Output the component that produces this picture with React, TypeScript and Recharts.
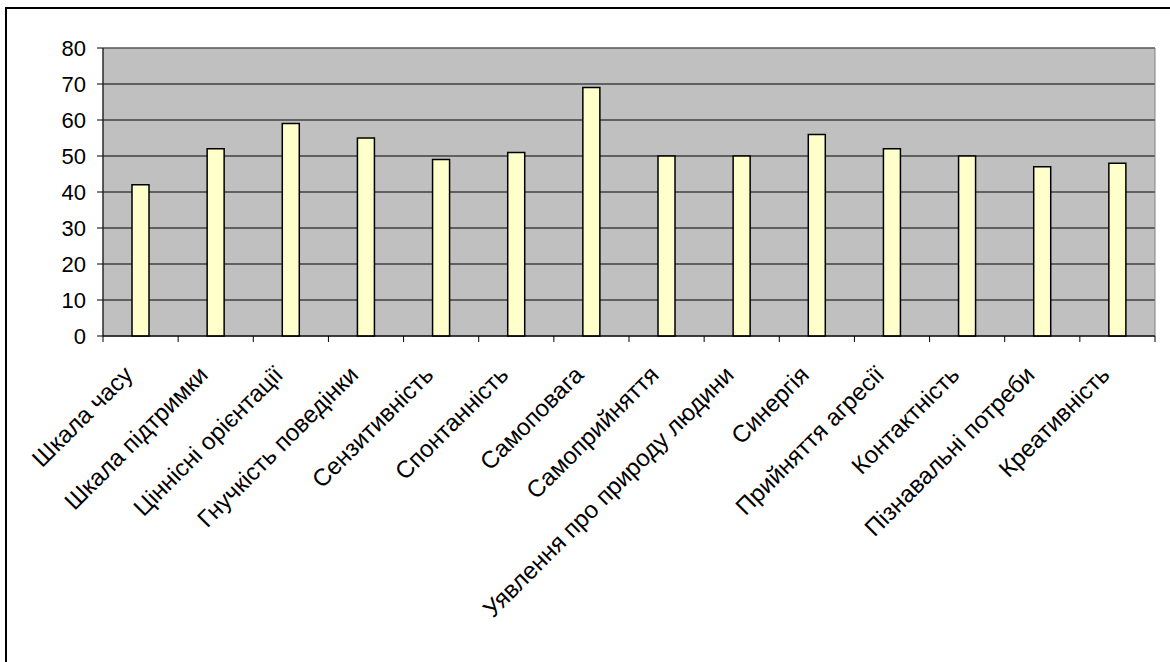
import React from "react";
import {
  BarChart,
  Bar,
  XAxis,
  YAxis,
  CartesianGrid,
  ReferenceArea,
} from "recharts";

// scale names (Ukrainian), one bar each
const scales = [
  "Шкала часу",
  "Шкала підтримки",
  "Ціннісні орієнтації",
  "Гнучкість поведінки",
  "Сензитивність",
  "Спонтанність",
  "Самоповага",
  "Самоприйняття",
  "Уявлення про природу людини",
  "Синергія",
  "Прийняття агресії",
  "Контактність",
  "Пізнавальні потреби",
  "Креативність",
];
const scores = [42, 52, 59, 55, 49, 51, 69, 50, 50, 56, 52, 50, 47, 48];
const yTicks = [0, 10, 20, 30, 40, 50, 60, 70, 80];

const data = scales.map((name, i) => ({ name, value: scores[i] }));

const FONT = '"Liberation Sans", Arial, sans-serif';
const W = 1170;
const H = 662;
const M = { top: 48, right: 15, left: 43, bottom: 46 };
const Y_W = 60;
const BAND = (W - M.left - M.right - Y_W) / scales.length;

// slanted label + the Excel-style tick marks between categories
const SlantTick = (props: any) => {
  const { x, y, payload, index } = props;
  const last = index === scales.length - 1;
  return (
    <g>
      <line x1={x - BAND / 2} y1={y} x2={x - BAND / 2} y2={y + 6} stroke="#000" />
      {last && (
        <line x1={x + BAND / 2} y1={y} x2={x + BAND / 2} y2={y + 6} stroke="#000" />
      )}
      <text
        x={-33}
        y={24}
        textAnchor="end"
        fontSize={24}
        fontFamily={FONT}
        fill="#000"
        transform={`translate(${x}, ${y}) rotate(-45)`}
      >
        {payload.value}
      </text>
    </g>
  );
};

export default function App() {
  return (
    <div
      style={{
        position: "absolute",
        left: 0,
        top: 0,
        width: W,
        height: H,
        overflow: "hidden",
        background: "#fff",
      }}
    >
      <div
        style={{
          position: "absolute",
          left: 5,
          top: 7,
          width: 1200,
          height: 700,
          borderLeft: "2px solid #000",
          borderTop: "2px solid #000",
        }}
      />
      <div style={{ position: "absolute", left: 0, top: 0 }}>
        <BarChart width={W} height={H} data={data} margin={M}>
          <CartesianGrid
            vertical={false}
            stroke="#000"
            fill="#C0C0C0"
            fillOpacity={1}
          />
          <ReferenceArea
            y1={0}
            y2={80}
            fill="none"
            stroke="#808080"
            ifOverflow="visible"
          />
          <XAxis
            dataKey="name"
            interval={0}
            height={280}
            tickSize={0}
            tickMargin={0}
            tickLine={false}
            axisLine={{ stroke: "#000" }}
            tick={<SlantTick />}
          />
          <YAxis
            domain={[0, 80]}
            ticks={yTicks}
            interval={0}
            width={Y_W}
            tickSize={6}
            tickMargin={11}
            tickLine={{ stroke: "#000" }}
            axisLine={{ stroke: "#000" }}
            tick={{ fontSize: 22, fontFamily: FONT, fill: "#000" }}
          />
          <Bar
            dataKey="value"
            fill="#FFFFCC"
            stroke="#000"
            strokeWidth={1.5}
            barSize={17}
            isAnimationActive={false}
          />
        </BarChart>
      </div>
    </div>
  );
}
